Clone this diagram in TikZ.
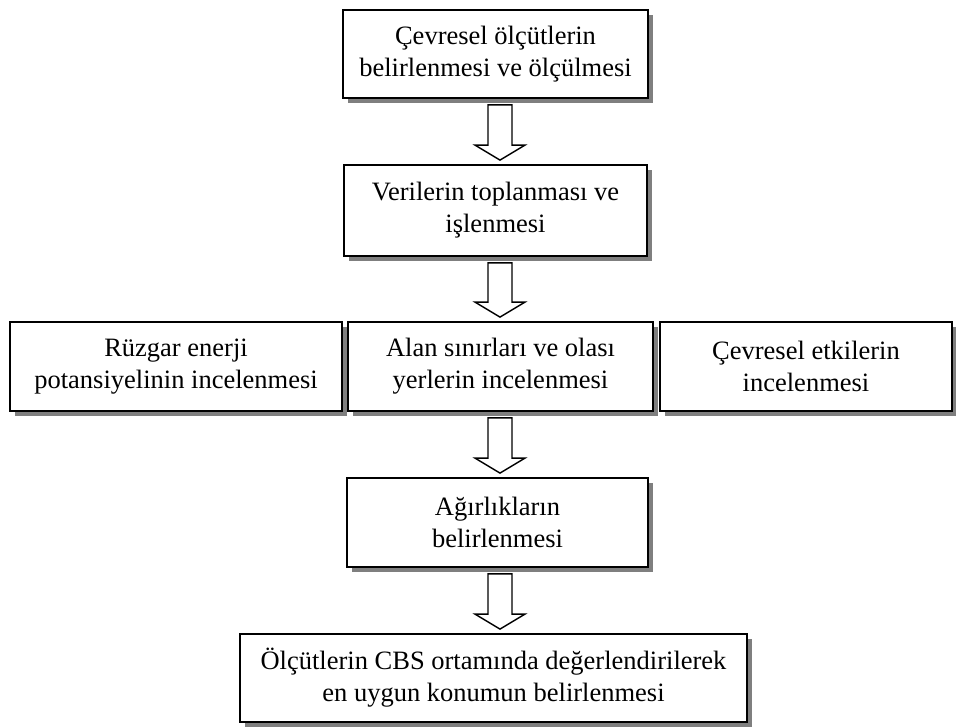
\documentclass[tikz,border=0pt]{standalone}
\usepackage{fontspec}
\setmainfont{Liberation Serif}
\usetikzlibrary{calc,shadows}
\definecolor{shade}{HTML}{7F7F7F}
\newcommand{\hollowarrow}[2]{%
\draw[blockarrow] let \p1=($(#1.south)+(0,6)$), \p2=($(#2.north)+(0,-4)$), \p3=(axis) in
 (\x3-12pt,\y1) -- (\x3+12pt,\y1) -- (\x3+12pt,\y2+15pt) -- (\x3+25pt,\y2+15pt) -- (\x3,\y2)
 -- (\x3-25pt,\y2+15pt) -- (\x3-12pt,\y2+15pt) -- cycle;}

\begin{document}
\begin{tikzpicture}[x=1pt,y=-1pt,
  stepbox/.style={draw=black,line width=1.8pt,fill=white,align=center,inner sep=0pt,
    font=\fontsize{26.5}{32}\selectfont,
    drop shadow={shadow xshift=5pt,shadow yshift=-5pt,fill=shade,opacity=1}},
  blockarrow/.style={draw=black,line width=1.4pt,fill=white,line join=miter}]
\useasboundingbox (0,0) rectangle (956,727);
\coordinate (axis) at (500,0);
\node[stepbox,minimum width=305,minimum height=88] (olcut) at (495.5,54) {Çevresel ölçütlerin\\belirlenmesi ve ölçülmesi};
\node[stepbox,minimum width=303,minimum height=91] (veri) at (495.5,210.5) {Verilerin toplanması ve\\işlenmesi};
\node[stepbox,minimum width=332,minimum height=89] (ruzgar) at (176,366.5) {Rüzgar enerji\\potansiyelinin incelenmesi};
\node[stepbox,minimum width=305,minimum height=89] (alan) at (500.5,366.5) {Alan sınırları ve olası\\yerlerin incelenmesi};
\node[stepbox,minimum width=292,minimum height=89] (etki) at (806,366.5) {Çevresel etkilerin\\incelenmesi};
\node[stepbox,minimum width=301,minimum height=89] (agirlik) at (497.5,522.5) {Ağırlıkların\\belirlenmesi};
\node[stepbox,minimum width=507,minimum height=88] (konum) at (493.5,678) {Ölçütlerin CBS ortamında değerlendirilerek\\en uygun konumun belirlenmesi};
\hollowarrow{olcut}{veri}
\hollowarrow{veri}{alan}
\hollowarrow{alan}{agirlik}
\hollowarrow{agirlik}{konum}
\end{tikzpicture}
\end{document}
